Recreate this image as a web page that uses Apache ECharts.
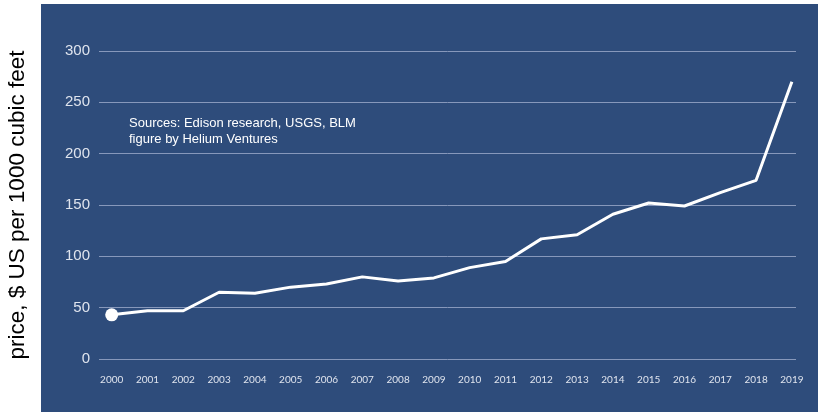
<!DOCTYPE html>
<html>
<head>
<meta charset="utf-8">
<script src="https://cdn.jsdelivr.net/npm/echarts@6/dist/echarts.min.js"></script>
<style>
  html, body { margin: 0; padding: 0; background: #fff; }
  #chart { width: 818px; height: 412px; }
</style>
</head>
<body>
<div id="chart"></div>
<script>
// helium price, $ US per 1000 cubic feet
var years = [2000, 2001, 2002, 2003, 2004, 2005, 2006, 2007, 2008, 2009,
             2010, 2011, 2012, 2013, 2014, 2015, 2016, 2017, 2018, 2019];
var prices = [43, 47, 47, 65, 64, 70, 73, 80, 76, 79,
              89, 95, 117, 121, 141, 152, 149, 162, 174, 270];
var yTicks = [0, 50, 100, 150, 200, 250, 300];

var chart = echarts.init(document.getElementById('chart'));

var points = years.map(function (y, i) { return [y, prices[i]]; });

chart.setOption({
    backgroundColor: '#ffffff',
    animation: false,
    graphic: [{
        type: 'rect',
        z: -10,
        shape: { x: 41, y: 4, width: 777, height: 408 },
        style: { fill: '#2e4c7b' }
    }, {
        type: 'text',
        left: 129,
        top: 115,
        style: {
            text: 'Sources: Edison research, USGS, BLM\nfigure by Helium Ventures',
            fill: '#ffffff',
            font: '13px "Liberation Sans", Arial, sans-serif',
            lineHeight: 16
        }
    }],
    grid: { left: 99, right: 22, top: 51, bottom: 53, outerBoundsMode: 'none' },
    xAxis: {
        type: 'value',
        min: 1999.645,
        max: 2019.115,
        axisLine: { show: false },
        axisTick: { show: false },
        splitLine: { show: false },
        axisLabel: {
            customValues: years,
            color: '#dfe4ee',
            fontSize: 10,
            fontFamily: 'Lato, "DejaVu Sans", sans-serif',
            margin: 16,
            formatter: function (v) { return String(v); }
        }
    },
    yAxis: {
        type: 'value',
        min: 0,
        max: 300,
        interval: 50,
        name: 'price, $ US per 1000 cubic feet',
        nameLocation: 'middle',
        nameGap: 70,
        nameTextStyle: {
            color: '#000000',
            fontSize: 22.5,
            fontFamily: '"Liberation Sans", Arial, sans-serif'
        },
        axisLine: { show: false },
        axisTick: { show: false },
        axisLabel: {
            color: '#dfe4ee',
            fontSize: 15,
            fontFamily: '"Liberation Sans", Arial, sans-serif',
            margin: 9
        },
        splitLine: { lineStyle: { color: '#8798bb', width: 1 } }
    },
    series: [{
        type: 'line',
        data: points,
        symbol: 'circle',
        symbolSize: function (v, p) { return p.dataIndex === 0 ? 13 : 0; },
        itemStyle: { color: '#ffffff' },
        lineStyle: { color: '#ffffff', width: 3 }
    }]
});
</script>
</body>
</html>
